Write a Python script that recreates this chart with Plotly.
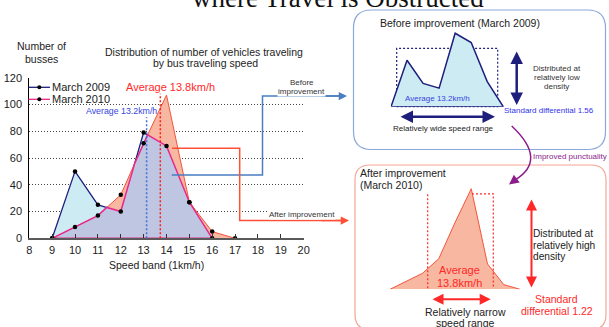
import numpy as np
import plotly.graph_objects as go

# ---------------- data ----------------
speed_2009 = [9, 10, 11, 12, 13, 14, 15, 16]
buses_2009 = [0, 50, 25, 20, 79, 69, 27, 0]
speed_2010 = [9, 10, 11, 12, 13, 14, 15, 16, 17]
buses_2010 = [0, 8.5, 17, 32.5, 71, 107, 27, 5, 0]
x_ticks = list(range(8, 21))
y_ticks = [0, 20, 40, 60, 80, 100, 120]
avg_label_2009 = "Average 13.2km/h"
avg_label_2010 = "Average 13.8km/h"
avg_line_x_2009, avg_line_top_2009 = 13.13, 90.5
avg_line_x_2010, avg_line_top_2010 = 13.73, 108

W, H = 609, 327
FONT = "Liberation Sans, Arial, sans-serif"

NAVY = "rgb(30,30,125)"
PINK = "rgb(232,40,140)"
CYAN = "rgb(204,235,242)"
SALMON = "rgb(248,183,160)"
SALMON_EDGE = "rgb(242,85,60)"
LAVENDER = "rgb(190,198,226)"
RED = "rgb(255,40,40)"
BLUE_TXT = "rgb(55,70,225)"
STEEL = "rgb(74,126,192)"
PURPLE = "rgb(140,30,140)"


def X(x):
    return x / W


def Y(y):
    return 1 - y / H


def overlap(xa, ya, xb, yb):
    grid = sorted(set(xa) | set(xb))
    fa = lambda v: np.interp(v, xa, ya, left=0, right=0)
    fb = lambda v: np.interp(v, xb, yb, left=0, right=0)
    pts = []
    for i in range(len(grid) - 1):
        x0, x1 = grid[i], grid[i + 1]
        d0, d1 = fa(x0) - fb(x0), fa(x1) - fb(x1)
        pts.append(x0)
        if d0 * d1 < 0:
            pts.append(x0 + (x1 - x0) * d0 / (d0 - d1))
    pts.append(grid[-1])
    xs = np.array(pts, dtype=float)
    ys = np.minimum(fa(xs), fb(xs))
    last = max(i for i, v in enumerate(ys) if v > 0) + 1
    xs, ys = xs[: last + 1], ys[: last + 1]
    return list(xs) + [xs[0]], list(ys) + [ys[0]]


ov_x, ov_y = overlap(speed_2009, buses_2009, speed_2010, buses_2010)

fig = go.Figure()

# main chart
fig.add_trace(go.Scatter(x=speed_2009, y=buses_2009, fill="toself", fillcolor=CYAN,
                         mode="lines", line=dict(width=0), hoverinfo="skip"))
fig.add_trace(go.Scatter(x=speed_2009, y=buses_2009, mode="lines",
                         line=dict(color=NAVY, width=1.3)))
fig.add_trace(go.Scatter(x=speed_2010, y=buses_2010, fill="toself", fillcolor=SALMON,
                         mode="lines", line=dict(color=SALMON_EDGE, width=1)))
fig.add_trace(go.Scatter(x=ov_x, y=ov_y, fill="toself", fillcolor=LAVENDER,
                         mode="lines", line=dict(color=PINK, width=1.5)))
fig.add_trace(go.Scatter(x=speed_2009, y=buses_2009, mode="markers",
                         marker=dict(color="black", size=4.5)))
peak = max(buses_2010)
fig.add_trace(go.Scatter(x=[s for s, v in zip(speed_2010, buses_2010) if v != peak],
                         y=[v for v in buses_2010 if v != peak], mode="markers",
                         marker=dict(color="black", size=4.5)))

# insets
fig.add_trace(go.Scatter(x=speed_2009 + [speed_2009[0]], y=buses_2009 + [buses_2009[0]],
                         fill="toself", fillcolor=CYAN, mode="lines",
                         line=dict(color=NAVY, width=1.5), xaxis="x2", yaxis="y2"))
fig.add_trace(go.Scatter(x=speed_2010, y=buses_2010, fill="toself", fillcolor=SALMON,
                         mode="lines", line=dict(color=SALMON_EDGE, width=1),
                         xaxis="x3", yaxis="y3"))

shapes = []
annotations = []

# average lines
shapes.append(dict(type="line", xref="x", yref="y", x0=avg_line_x_2009, x1=avg_line_x_2009,
                   y0=0, y1=avg_line_top_2009, line=dict(color="rgb(70,110,215)", width=1.5, dash="2px,2px")))
shapes.append(dict(type="line", xref="x", yref="y", x0=avg_line_x_2010, x1=avg_line_x_2010,
                   y0=0, y1=avg_line_top_2010, line=dict(color="rgb(255,30,30)", width=1.5, dash="2px,2px")))


def pline(points, color, width, dash="solid"):
    d = "M " + " L ".join(f"{X(a):.5f},{Y(b):.5f}" for a, b in points)
    shapes.append(dict(type="path", xref="paper", yref="paper", path=d,
                       line=dict(color=color, width=width, dash=dash)))


def rrect(x0, y0, x1, y1, r, color, width):
    p = (f"M {X(x0 + r)},{Y(y0)} L {X(x1 - r)},{Y(y0)} Q {X(x1)},{Y(y0)} {X(x1)},{Y(y0 + r)} "
         f"L {X(x1)},{Y(y1 - r)} Q {X(x1)},{Y(y1)} {X(x1 - r)},{Y(y1)} "
         f"L {X(x0 + r)},{Y(y1)} Q {X(x0)},{Y(y1)} {X(x0)},{Y(y1 - r)} "
         f"L {X(x0)},{Y(y0 + r)} Q {X(x0)},{Y(y0)} {X(x0 + r)},{Y(y0)} Z")
    shapes.append(dict(type="path", xref="paper", yref="paper", path=p,
                       line=dict(color=color, width=width), layer="below"))


def arrow(x0, y0, x1, y1, color, width, size, both=False):
    annotations.append(dict(xref="paper", yref="paper", x=X(x1), y=Y(y1),
                            ax=x0 - x1, ay=y0 - y1, axref="pixel", ayref="pixel",
                            text="", showarrow=True, arrowhead=2, arrowsize=size,
                            arrowwidth=width, arrowcolor=color,
                            arrowside="end+start" if both else "end",
                            startarrowhead=2, startarrowsize=size,
                            standoff=0, startstandoff=0))


def txt(x, y, s, size, color="#222", anchor="center", bg=None, family=FONT):
    a = dict(xref="paper", yref="paper", x=X(x), y=Y(y), text=s, showarrow=False,
             xanchor=anchor, yanchor="middle", font=dict(family=family, size=size, color=color),
             borderpad=0)
    if bg:
        a["bgcolor"] = bg
    annotations.append(a)


# boxes
rrect(353.5, 10, 605.5, 149.5, 18, "rgb(140,168,218)", 1.2)
rrect(355, 165, 606, 329.5, 15, "rgb(245,165,150)", 1.2)

# white backing behind the "Before improvement" label of the main chart
shapes.append(dict(type="rect", xref="paper", yref="paper", x0=X(266), x1=X(336),
                   y0=Y(89), y1=Y(74), fillcolor="white", line=dict(width=0), layer="above"))

# dotted rectangles in insets
shapes.append(dict(type="rect", xref="paper", yref="paper", x0=X(396.7), x1=X(497.7),
                   y0=Y(106.7), y1=Y(48.3), line=dict(color=NAVY, width=1.2, dash="2px,2px"), layer="below"))
pline([(427.7, 288.3), (427.7, 193.8)], RED, 1.2, "2px,2px")
pline([(472, 193.8), (493.3, 193.8), (493.3, 288.3)], RED, 1.2, "2px,2px")

# connectors
pline([(171.7, 175), (262.5, 175), (262.5, 96), (342, 96)], STEEL, 1.5)
arrow(320, 96, 347, 96, STEEL, 1.5, 1.1)
pline([(172, 148.3), (239.7, 148.3), (239.7, 220.5), (343, 220.5)], "rgb(255,80,55)", 1.5)
arrow(320, 220.5, 349, 220.5, "rgb(255,80,55)", 1.5, 1.1)

# purple curve
shapes.append(dict(type="path", xref="paper", yref="paper",
                   path=f"M {X(511.7)},{Y(126)} Q {X(548)},{Y(160)} {X(515)},{Y(180)}",
                   line=dict(color=PURPLE, width=1.5)))
arrow(517, 178.5, 509, 184.5, PURPLE, 1.5, 1.3)

# double arrows
arrow(516.7, 50, 516.7, 105, NAVY, 2.5, 1.0, both=True)
arrow(399, 116.7, 495, 116.7, NAVY, 2.5, 1.0, both=True)
arrow(531.5, 198, 531.5, 287.5, RED, 2, 1.1, both=True)
arrow(431, 299.3, 490.7, 299.3, RED, 2, 1.1, both=True)

# legend
pline([(28.5, 87.3), (50, 87.3)], NAVY, 1.3)
pline([(28.5, 99.3), (50, 99.3)], PINK, 1.3)
for yy in (87.3, 99.3):
    shapes.append(dict(type="circle", xref="paper", yref="paper", x0=X(37.3), x1=X(41.3),
                       y0=Y(yy + 2), y1=Y(yy - 2), fillcolor="black", line=dict(width=0)))
txt(51, 87.3, "March 2009", 11, anchor="left")
txt(51, 99.0, "March 2010", 11, anchor="left")

# texts main
txt(337.5, -2.0, "where Travel is Obstructed", 27, "#111", family="Liberation Serif, Times New Roman, serif")
txt(41.7, 46.3, "Number of", 10.5)
txt(41.7, 59.3, "busses", 10.5)
txt(204, 51.7, "Distribution of number of vehicles traveling", 10.5)
txt(206, 63.3, "by bus traveling speed", 10.5)
txt(170, 86.7, avg_label_2010, 11, RED)
txt(121.7, 111, avg_label_2009, 8.8, BLUE_TXT)
txt(301.5, 82.7, "Before", 8, "#333", bg="white")
txt(301.5, 91.5, "improvement", 8, "#333", bg="white")
txt(301.7, 214, "After improvement", 8, "#333", bg="white")
txt(156, 265, "Speed band (1km/h)", 10.5)

# texts right
txt(460, 23, "Before improvement (March 2009)", 10.5)
txt(437, 99, avg_label_2009, 8, BLUE_TXT, bg=CYAN)
txt(556.7, 68.3, "Distributed at", 8, "#333")
txt(556.7, 77.3, "relatively low", 8, "#333")
txt(556.7, 86.7, "density", 8, "#333")
txt(549, 110.7, "Standard differential 1.56", 8, "rgb(50,50,235)")
txt(443.3, 128.3, "Relatively wide speed range", 8, "#222")
txt(570, 156, "Improved punctuality", 8, PURPLE)
txt(359.3, 172.7, "After improvement", 10.5, anchor="left")
txt(359.3, 185, "(March 2010)", 10.5, anchor="left")
txt(459.3, 270, "Average", 11, RED)
txt(459.3, 282.7, "13.8km/h", 11, RED)
txt(532.3, 233.3, "Distributed at", 10.2, anchor="left")
txt(532.3, 245, "relatively high", 10.2, anchor="left")
txt(532.3, 256.2, "density", 10.2, anchor="left")
txt(556.7, 299, "Standard", 10.5, RED)
txt(556.7, 310.5, "differential 1.22", 10.5, RED)
txt(465, 311.7, "Relatively narrow", 10.5)
txt(465, 323.3, "speed range", 10.5)

# axes
x_left, x_right = 29.3, 303.7
y_bot, y_top = 238.3, 77.7
b_x0, b_ppu, b_y0, b_vpu = 391, 16.04, 106.7, 0.93
a_x0, a_ppu, a_y0, a_vpu = 390, 16.25, 289.3, 0.94

fig.update_layout(
    width=W, height=H, margin=dict(l=0, r=0, t=0, b=0),
    paper_bgcolor="white", plot_bgcolor="rgba(0,0,0,0)", showlegend=False,
    template="none",
    xaxis=dict(domain=[X(x_left), X(x_right)], range=[8, 20], tickvals=x_ticks,
               ticks="inside", ticklen=4, tickwidth=1, tickcolor="#333",
               showline=True, linecolor="#5a5a5a", linewidth=2.2, showgrid=False,
               zeroline=False, automargin=False,
               tickfont=dict(family=FONT, size=11, color="#222"), fixedrange=True),
    yaxis=dict(domain=[Y(y_bot), Y(y_top)], range=[0, 120], tickvals=y_ticks,
               ticks="", showline=True, linecolor="black", linewidth=1,
               showgrid=True, gridcolor="#444", gridwidth=1, griddash="1px,2px",
               zeroline=False, automargin=False, ticklabelstandoff=4,
               tickfont=dict(family=FONT, size=11, color="#222"), fixedrange=True),
    xaxis2=dict(domain=[X(b_x0), X(b_x0 + 8 * b_ppu)], range=[9, 17], visible=False,
                anchor="y2", fixedrange=True),
    yaxis2=dict(domain=[Y(b_y0), Y(b_y0 - 100 * b_vpu)], range=[0, 100], visible=False,
                anchor="x2", fixedrange=True),
    xaxis3=dict(domain=[X(a_x0), X(a_x0 + 8 * a_ppu)], range=[9, 17], visible=False,
                anchor="y3", fixedrange=True),
    yaxis3=dict(domain=[Y(a_y0), Y(a_y0 - 115 * a_vpu)], range=[0, 115], visible=False,
                anchor="x3", fixedrange=True),
    shapes=shapes, annotations=annotations,
)

fig.write_html("out.html")
